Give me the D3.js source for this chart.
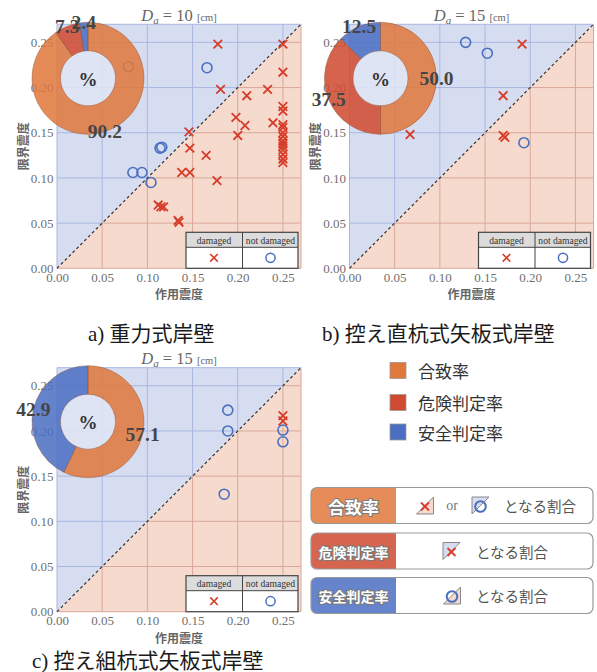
<!DOCTYPE html>
<html>
<head>
<meta charset="utf-8">
<script src="https://cdn.jsdelivr.net/npm/d3@7"></script>
<style>
  body { margin: 0; background: #fff; }
  svg { display: block; }
</style>
</head>
<body>
<svg id="chart" width="597" height="672"></svg>
<script>
// ---- data ----
const axisTicks = [0, 0.05, 0.10, 0.15, 0.20, 0.25];
const rateNames = ["合致率", "危険判定率", "安全判定率"];
const rateColors = ["#e0783c", "#cf4a30", "#4a6fc2"];

// shares (%) of 合致 / 危険判定 / 安全判定 per wall type
const rateA = [90.2, 7.3, 2.4];
const rateB = [50.0, 37.5, 12.5];
const rateC = [57.1, 0, 42.9];

// [作用震度, 限界震度]
const damagedA = [
  [0.178, 0.248], [0.250, 0.248], [0.250, 0.217], [0.181, 0.198], [0.233, 0.198],
  [0.210, 0.191], [0.198, 0.167], [0.208, 0.158], [0.239, 0.161], [0.200, 0.147],
  [0.146, 0.151], [0.147, 0.133], [0.165, 0.125], [0.138, 0.106], [0.147, 0.106],
  [0.177, 0.097],
  [0.250, 0.179], [0.250, 0.174], [0.250, 0.159], [0.250, 0.156], [0.250, 0.150],
  [0.250, 0.146], [0.250, 0.141], [0.250, 0.138], [0.250, 0.135], [0.250, 0.131],
  [0.250, 0.126], [0.250, 0.121], [0.250, 0.117],
  [0.112, 0.070], [0.115, 0.068], [0.118, 0.068], [0.134, 0.053], [0.135, 0.051]
];
const notDamagedA = [
  [0.079, 0.223], [0.166, 0.222], [0.114, 0.133], [0.116, 0.134],
  [0.084, 0.106], [0.094, 0.106], [0.104, 0.095]
];
const damagedB = [[0.191, 0.248], [0.170, 0.191], [0.067, 0.148], [0.170, 0.147], [0.172, 0.145]];
const notDamagedB = [[0.1285, 0.250], [0.1525, 0.238], [0.193, 0.139]];
const damagedC = [[0.250, 0.217], [0.250, 0.211]];
const notDamagedC = [[0.189, 0.223], [0.189, 0.200], [0.250, 0.201], [0.250, 0.188], [0.185, 0.130]];

const displacements = [10, 15, 15];
const captionTags = ["a)", "b)", "c)"];
const captionNames = ["重力式岸壁", "控え直杭式矢板式岸壁", "控え組杭式矢板式岸壁"];
const tableHeaders = ["damaged", "not damaged"];
const boxSuffix = "となる割合";

// ---- styling / layout ----
const SERIF = "'Liberation Serif','Times New Roman',serif";
const CJK = "'Noto Sans CJK JP','Noto Sans',sans-serif";
const DOM = 0.27, SIZE = 244;
const BLUE_BG = "#d7ddf1", PINK_BG = "#f6dacd";
const BLUE_GRID = "#a8b6e2", PINK_GRID = "#d9a898";
const CROSS_COL = "#d63c2a", CIRCLE_COL = "#4a70bf";

const svg = d3.select("#chart");

function crossPath(s) {
  return `M${-s},${-s}L${s},${s}M${-s},${s}L${s},${-s}`;
}
function drawCross(sel, s, w) {
  return sel.append("path").attr("d", crossPath(s)).attr("fill", "none")
    .attr("stroke", CROSS_COL).attr("stroke-width", w);
}
function drawCircle(sel, r, w) {
  return sel.append("circle").attr("r", r).attr("fill", "none")
    .attr("stroke", CIRCLE_COL).attr("stroke-width", w);
}

function drawPanel(cfg) {
  const g = svg.append("g").attr("transform", `translate(${cfg.left},${cfg.top})`);
  const x = d3.scaleLinear().domain([0, DOM]).range([0, SIZE]);
  const y = d3.scaleLinear().domain([0, DOM]).range([SIZE, 0]);
  const line = d3.line().x(d => x(d[0])).y(d => y(d[1]));

  // safe side (above 1:1) and danger side (below 1:1)
  g.append("path").attr("d", line([[0, 0], [0, DOM], [DOM, DOM]]) + "Z").attr("fill", BLUE_BG);
  g.append("path").attr("d", line([[0, 0], [DOM, 0], [DOM, DOM]]) + "Z").attr("fill", PINK_BG);

  // grid lines take the colour of the region they cross
  const seg = (a, b, c) => g.append("path").attr("d", line([a, b]))
    .attr("stroke", c).attr("stroke-width", 1).attr("fill", "none");
  axisTicks.concat([DOM]).forEach(t => {
    if (t > 0) seg([t, 0], [t, t], PINK_GRID);
    seg([t, t], [t, DOM], BLUE_GRID);
    if (t > 0) seg([0, t], [t, t], BLUE_GRID);
    seg([t, t], [DOM, t], PINK_GRID);
  });

  // 1:1 line
  g.append("path").attr("d", line([[0, 0], [DOM, DOM]]))
    .attr("stroke", "#333").attr("stroke-width", 1.2).attr("stroke-dasharray", "3,2.5");

  // observations
  g.append("g").selectAll("path").data(cfg.damaged).join("path")
    .attr("transform", d => `translate(${x(d[0])},${y(d[1])})`)
    .attr("d", crossPath(4.3)).attr("fill", "none")
    .attr("stroke", CROSS_COL).attr("stroke-width", 1.8);
  g.append("g").selectAll("circle").data(cfg.notDamaged).join("circle")
    .attr("cx", d => x(d[0])).attr("cy", d => y(d[1])).attr("r", 5)
    .attr("fill", "none").attr("stroke", CIRCLE_COL).attr("stroke-width", 1.6);

  // marker key table
  const tb = g.append("g").attr("transform", `translate(129,${SIZE - 36})`);
  tb.append("rect").attr("width", 112).attr("height", 15).attr("fill", "#dcdcdc");
  tb.append("rect").attr("y", 15).attr("width", 112).attr("height", 21).attr("fill", "#fff");
  tb.append("rect").attr("width", 112).attr("height", 36).attr("fill", "none")
    .attr("stroke", "#444").attr("stroke-width", 1.2);
  tb.append("line").attr("x1", 0).attr("x2", 112).attr("y1", 15).attr("y2", 15)
    .attr("stroke", "#444").attr("stroke-width", 1);
  tb.append("line").attr("x1", 56.5).attr("x2", 56.5).attr("y1", 0).attr("y2", 36)
    .attr("stroke", "#444").attr("stroke-width", 1);
  tableHeaders.forEach((h, i) => {
    tb.append("text").attr("x", 28 + i * 56.5).attr("y", 7.8)
      .attr("text-anchor", "middle").attr("dominant-baseline", "central")
      .attr("font-family", SERIF).attr("font-size", 9.6).attr("fill", "#333").text(h);
  });
  drawCross(tb.append("g").attr("transform", "translate(28,25.5)"), 3.8, 1.6);
  drawCircle(tb.append("g").attr("transform", "translate(84.5,25.5)"), 4.6, 1.5);

  // axes (labels only)
  const fmt = d3.format(".2f");
  const ya = g.append("g").call(d3.axisLeft(y).tickValues(axisTicks).tickFormat(fmt).tickSize(0).tickPadding(3.5));
  const xa = g.append("g").attr("transform", `translate(0,${SIZE})`)
    .call(d3.axisBottom(x).tickValues(axisTicks).tickFormat(fmt).tickSize(0).tickPadding(4.5));
  [ya, xa].forEach(a => {
    a.select(".domain").remove();
    a.selectAll("text").attr("font-family", SERIF).attr("font-size", 13).attr("fill", "#707070");
  });

  g.append("text").attr("x", SIZE / 2).attr("y", SIZE + 25.5)
    .attr("text-anchor", "middle").attr("dominant-baseline", "central")
    .attr("font-family", CJK).attr("font-size", 12).attr("font-weight", 700)
    .attr("fill", "#666").text("作用震度");
  g.append("text").attr("transform", `translate(-35,${SIZE - 122}) rotate(-90)`)
    .attr("text-anchor", "middle").attr("dominant-baseline", "central")
    .attr("font-family", CJK).attr("font-size", 12).attr("font-weight", 700)
    .attr("fill", "#666").text("限界震度");

  // rate donut
  const dg = g.append("g").attr("transform", `translate(31,${SIZE - 190})`);
  const pie = d3.pie().sort(null).value(d => d.v);
  const arcs = pie(cfg.rates.map((v, i) => ({ v, i })));
  const arc = d3.arc().innerRadius(27.5).outerRadius(56);
  dg.append("circle").attr("r", 27.5).attr("fill", "#e1e5f5").attr("opacity", 0.85);
  dg.selectAll("path").data(arcs.filter(a => a.data.v > 0)).join("path")
    .attr("d", arc).attr("fill", a => rateColors[a.data.i]).attr("fill-opacity", 0.86)
    .attr("stroke", "#8a4a2a").attr("stroke-opacity", 0.5).attr("stroke-width", 0.8);
  dg.append("text").attr("y", 1).attr("text-anchor", "middle").attr("dominant-baseline", "central")
    .attr("font-family", SERIF).attr("font-weight", 700).attr("font-size", 19)
    .attr("fill", "#333").text("%");
  dg.selectAll("text.pct").data(arcs.filter(a => a.data.v > 0)).join("text")
    .attr("class", "pct")
    .attr("x", a => 56 * Math.sin((a.startAngle + a.endAngle) / 2))
    .attr("y", a => -56 * Math.cos((a.startAngle + a.endAngle) / 2))
    .attr("text-anchor", "middle").attr("dominant-baseline", "central")
    .attr("font-family", SERIF).attr("font-weight", 700).attr("font-size", 19.5)
    .attr("fill", "#454545").text(a => d3.format(".1f")(a.data.v));

  // heading  D_a = .. [cm]
  const tt = g.append("text").attr("x", SIZE / 2).attr("y", -3.5).attr("text-anchor", "middle")
    .attr("font-family", SERIF).attr("fill", "#666");
  tt.append("tspan").attr("font-style", "italic").attr("font-size", 16.5).text("D");
  tt.append("tspan").attr("font-style", "italic").attr("font-size", 11).attr("dy", 3).text("a");
  tt.append("tspan").attr("font-size", 16.5).attr("dy", -3).text(` = ${cfg.da} `);
  tt.append("tspan").attr("font-size", 10.5).text("[cm]");

  // caption
  const cap = svg.append("text").attr("x", cfg.capX).attr("y", cfg.capY)
    .attr("font-size", 21).attr("fill", "#1a1a1a");
  cap.append("tspan").attr("font-family", SERIF).text(cfg.tag + " ");
  cap.append("tspan").attr("font-family", CJK).text(" " + cfg.name);
}

drawPanel({ left: 57, top: 24.3, rates: rateA, damaged: damagedA, notDamaged: notDamagedA,
  da: displacements[0], tag: captionTags[0], name: captionNames[0], capX: 88, capY: 341 });
drawPanel({ left: 349.5, top: 24.3, rates: rateB, damaged: damagedB, notDamaged: notDamagedB,
  da: displacements[1], tag: captionTags[1], name: captionNames[1], capX: 322, capY: 341 });
drawPanel({ left: 57, top: 367.7, rates: rateC, damaged: damagedC, notDamaged: notDamagedC,
  da: displacements[2], tag: captionTags[2], name: captionNames[2], capX: 32, capY: 667.5 });

// ---- colour legend ----
const lg = svg.append("g");
rateNames.forEach((n, i) => {
  const cy = [370.5, 402.5, 432][i];
  lg.append("rect").attr("x", 390).attr("y", cy - 8).attr("width", 16).attr("height", 16)
    .attr("fill", rateColors[i]).attr("stroke", "#999").attr("stroke-width", 0.8);
  lg.append("text").attr("x", 418).attr("y", cy).attr("dominant-baseline", "central")
    .attr("font-family", CJK).attr("font-size", 17).attr("fill", "#333").text(n);
});

// ---- definition boxes ----
const defs = svg.append("defs");
function triIcon(sel, ox, oy, kind, marker) {
  const w = 17, h = 17;
  const ig = sel.append("g").attr("transform", `translate(${ox},${oy})`);
  const pts = kind === "upper" ? [[0, 0], [w, 0], [0, h]] : [[0, h], [w, 0], [w, h]];
  ig.append("path").attr("d", d3.line()(pts) + "Z")
    .attr("fill", kind === "upper" ? BLUE_BG : PINK_BG)
    .attr("stroke", "#888").attr("stroke-width", 1);
  const mg = ig.append("g").attr("transform", `translate(${w / 2},${h / 2 + 1})`);
  if (marker === "x") drawCross(mg, 4, 1.8);
  else drawCircle(mg, 5.3, 2);
}
const boxTop = [487.5, 533, 577.5];
rateNames.forEach((n, i) => {
  const bx = 311, bw = 282, bh = 36, by = boxTop[i];
  const cid = `boxclip${i}`;
  defs.append("clipPath").attr("id", cid).append("rect")
    .attr("x", bx).attr("y", by).attr("width", bw).attr("height", bh).attr("rx", 6);
  const bg = svg.append("g");
  bg.append("rect").attr("x", bx).attr("y", by).attr("width", bw).attr("height", bh)
    .attr("rx", 6).attr("fill", "#fff");
  bg.append("rect").attr("x", bx).attr("y", by).attr("width", 85).attr("height", bh)
    .attr("fill", rateColors[i]).attr("fill-opacity", 0.85).attr("clip-path", `url(#${cid})`);
  bg.append("rect").attr("x", bx).attr("y", by).attr("width", bw).attr("height", bh)
    .attr("rx", 6).attr("fill", "none").attr("stroke", "#999").attr("stroke-width", 1.2);
  bg.append("text").attr("x", bx + 42.5).attr("y", by + bh / 2 + 0.5)
    .attr("text-anchor", "middle").attr("dominant-baseline", "central")
    .attr("font-family", CJK).attr("font-size", i === 0 ? 17 : 14).attr("font-weight", 700)
    .attr("fill", "#fff").attr("stroke", "#7a7a7a").attr("stroke-width", 2)
    .attr("paint-order", "stroke").text(n);
  const cy = by + bh / 2;
  let tx;
  if (i === 0) {
    triIcon(bg, 416.5, cy - 8.5, "lower", "x");
    bg.append("text").attr("x", 452).attr("y", cy).attr("text-anchor", "middle")
      .attr("dominant-baseline", "central").attr("font-family", SERIF).attr("font-size", 14)
      .attr("fill", "#777").text("or");
    triIcon(bg, 472, cy - 8.5, "upper", "o");
    tx = 504;
  } else if (i === 1) {
    triIcon(bg, 443, cy - 8.5, "upper", "x");
    tx = 476;
  } else {
    triIcon(bg, 443.5, cy - 8.5, "lower", "o");
    tx = 476;
  }
  bg.append("text").attr("x", tx).attr("y", cy).attr("dominant-baseline", "central")
    .attr("font-family", CJK).attr("font-size", 14.5).attr("fill", "#555").text(boxSuffix);
});
</script>
</body>
</html>
